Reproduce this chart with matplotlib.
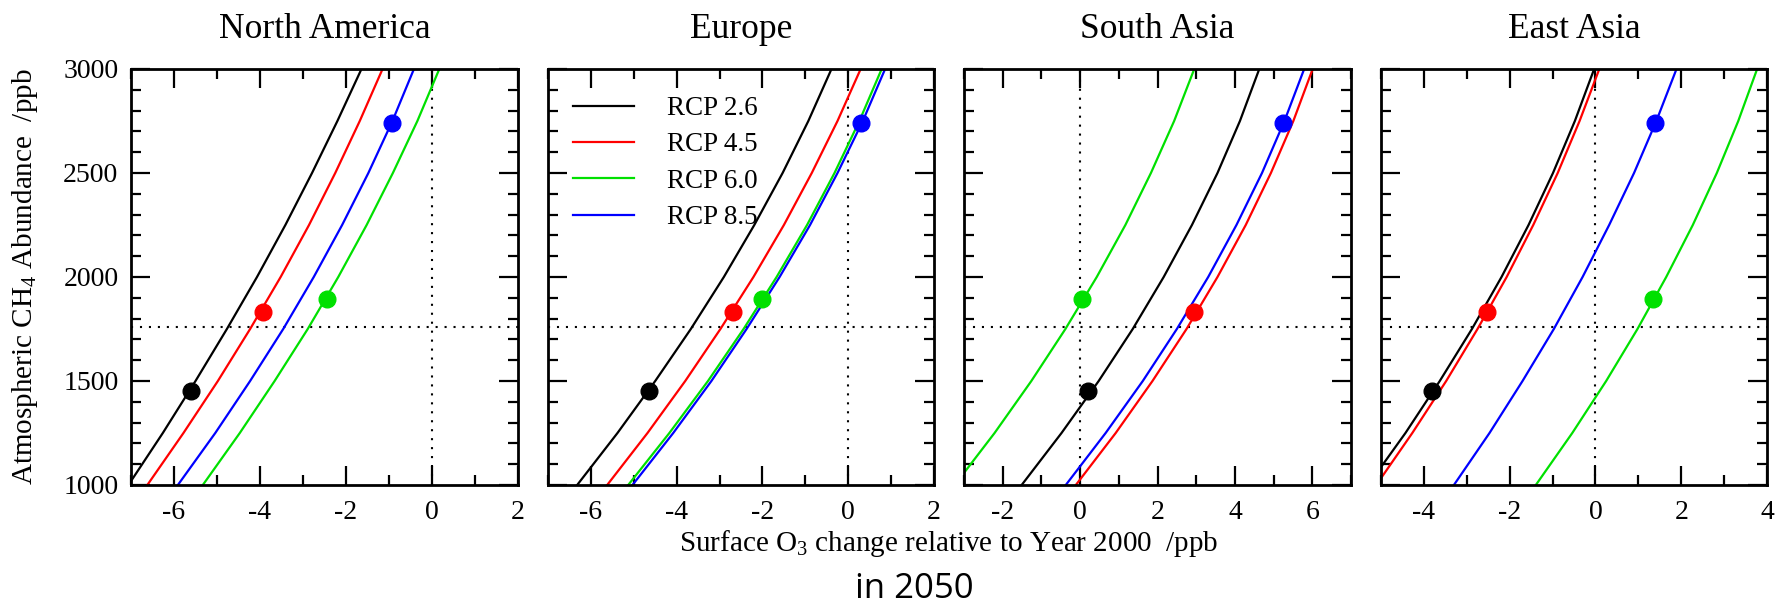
import matplotlib
matplotlib.use("Agg")
import matplotlib.pyplot as plt
from matplotlib.ticker import MultipleLocator

# ---------------- data ----------------
regions = ["North America", "Europe", "South Asia", "East Asia"]
scenarios = ["RCP 2.6", "RCP 4.5", "RCP 6.0", "RCP 8.5"]
colors = ["#000000", "#ff0000", "#00e000", "#0000ff"]

# CH4 abundance (ppb) at which each curve's O3 change was read
ch4_levels = [1000, 1250, 1500, 1750, 2000, 2250, 2500, 2750, 3000]
ch4_2000 = 1760                                    # horizontal dotted line

# O3 change (ppb) at ch4_levels, per region and scenario
na_rcp26 = [-7.06, -6.26, -5.50, -4.77, -4.07, -3.41, -2.79, -2.20, -1.64]
na_rcp45 = [-6.62, -5.78, -4.98, -4.23, -3.52, -2.86, -2.25, -1.68, -1.15]
na_rcp60 = [-5.33, -4.47, -3.66, -2.89, -2.18, -1.52, -0.91, -0.34, 0.17]
na_rcp85 = [-5.91, -5.04, -4.23, -3.46, -2.75, -2.09, -1.48, -0.92, -0.42]

eu_rcp26 = [-6.32, -5.38, -4.50, -3.67, -2.90, -2.19, -1.53, -0.93, -0.39]
eu_rcp45 = [-5.62, -4.68, -3.80, -2.98, -2.21, -1.50, -0.85, -0.25, 0.29]
eu_rcp60 = [-5.13, -4.17, -3.27, -2.44, -1.67, -0.96, -0.32, 0.26, 0.78]
eu_rcp85 = [-5.03, -4.08, -3.19, -2.37, -1.60, -0.89, -0.25, 0.34, 0.86]

sa_rcp26 = [-1.51, -0.48, 0.48, 1.36, 2.16, 2.89, 3.55, 4.13, 4.63]
sa_rcp45 = [-0.11, 0.92, 1.87, 2.75, 3.55, 4.28, 4.93, 5.51, 6.01]
sa_rcp60 = [-3.24, -2.21, -1.26, -0.38, 0.43, 1.17, 1.83, 2.43, 2.95]
sa_rcp85 = [-0.37, 0.66, 1.62, 2.50, 3.31, 4.04, 4.70, 5.28, 5.79]

ea_rcp26 = [-5.30, -4.43, -3.63, -2.88, -2.19, -1.56, -0.99, -0.48, -0.03]
ea_rcp45 = [-5.11, -4.27, -3.48, -2.75, -2.07, -1.45, -0.88, -0.37, 0.09]
ea_rcp60 = [-1.39, -0.54, 0.25, 0.98, 1.65, 2.27, 2.83, 3.33, 3.77]
ea_rcp85 = [-3.30, -2.47, -1.70, -0.97, -0.30, 0.32, 0.90, 1.42, 1.89]

# 2050 points (CH4 abundance per scenario, O3 change per region)
dot_ch4 = [1450, 1830, 1893, 2740]
na_dot_o3 = [-5.60, -3.92, -2.44, -0.92]
eu_dot_o3 = [-4.65, -2.68, -2.02, 0.30]
sa_dot_o3 = [0.21, 2.94, 0.04, 5.23]
ea_dot_o3 = [-3.80, -2.54, 1.35, 1.39]

xlims = [(-7, 2), (-7, 2), (-3, 7), (-5, 4)]
ylim = (1000, 3000)

curves = [
    [na_rcp26, na_rcp45, na_rcp60, na_rcp85],
    [eu_rcp26, eu_rcp45, eu_rcp60, eu_rcp85],
    [sa_rcp26, sa_rcp45, sa_rcp60, sa_rcp85],
    [ea_rcp26, ea_rcp45, ea_rcp60, ea_rcp85],
]
dots = [na_dot_o3, eu_dot_o3, sa_dot_o3, ea_dot_o3]

# ---------------- figure ----------------
W, H = 1777, 606
plt.rcParams["font.family"] = ["Liberation Serif", "DejaVu Serif"]
plt.rcParams["mathtext.fontset"] = "custom"
plt.rcParams["mathtext.rm"] = "Liberation Serif"
plt.rcParams["axes.unicode_minus"] = False
fig = plt.figure(figsize=(W / 100, H / 100), dpi=100)

lefts = [131, 548, 964, 1381]
rights = [518, 934, 1351, 1767]
top, bottom = 69, 485

axes = []
for i in range(4):
    ax = fig.add_axes([lefts[i] / W, (H - bottom) / H,
                       (rights[i] - lefts[i]) / W, (bottom - top) / H])
    axes.append(ax)
    ax.set_xlim(*xlims[i])
    ax.set_ylim(*ylim)
    # reference dotted lines
    ax.axvline(0, color="black", lw=1.5, dashes=(1, 3.3), zorder=1)
    ax.axhline(ch4_2000, color="black", lw=1.5, dashes=(1, 3.3), zorder=1)
    for j in range(4):
        ax.plot(curves[i][j], ch4_levels, color=colors[j], lw=1.6,
                label=scenarios[j], zorder=2, solid_joinstyle="round")
    for j in range(4):
        ax.plot(dots[i][j], dot_ch4[j], "o", color=colors[j], ms=12,
                zorder=3)
    ax.xaxis.set_major_locator(MultipleLocator(2))
    ax.xaxis.set_minor_locator(MultipleLocator(1))
    ax.yaxis.set_major_locator(MultipleLocator(500))
    ax.yaxis.set_minor_locator(MultipleLocator(100))
    ax.tick_params(which="both", direction="in", top=True, right=True,
                   width=1.6, labelsize=20)
    ax.tick_params(which="major", length=13.5)
    ax.tick_params(which="minor", length=7)
    ax.tick_params(axis="x", pad=11)
    ax.tick_params(axis="y", pad=9)
    for sp in ax.spines.values():
        sp.set_linewidth(2)
    if i > 0:
        ax.set_yticklabels([])
    ax.set_title(regions[i], fontsize=25.5, pad=22)

leg = axes[1].legend(loc="upper left", bbox_to_anchor=(0.065, 0.935),
                     frameon=False, fontsize=19.5, handlelength=2.26,
                     handletextpad=1.2, labelspacing=0.42, borderpad=0,
                     borderaxespad=0)

fig.text(25 / W, (H - 277) / H,
         r"Atmospheric CH$_4$ Abundance  /ppb", rotation=90,
         ha="center", va="center", fontsize=21)
fig.text(949 / W, (H - 551) / H,
         r"Surface O$_3$ change relative to Year 2000  /ppb",
         ha="center", va="baseline", fontsize=21)
fig.text(914 / W, 0.0, "in 2050", ha="center", va="bottom",
         fontsize=25, family=["Open Sans", "DejaVu Sans"])

fig.savefig("out.png", dpi=100)
